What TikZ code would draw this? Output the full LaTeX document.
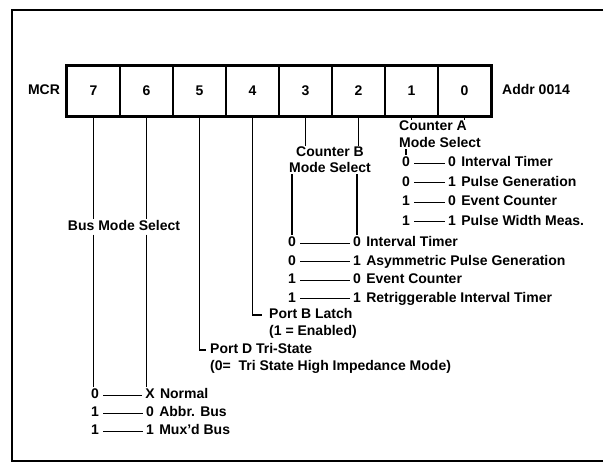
\documentclass[tikz,border=0pt]{standalone}
\usepackage{fontspec}
\setmainfont{Liberation Sans}
\usetikzlibrary{positioning}
\tikzset{
  lbl/.style={font=\bfseries\fontsize{14}{16}\selectfont, inner sep=1pt, text height=10pt, text depth=3pt},
  lbltwo/.style={font=\bfseries\fontsize{14}{16}\selectfont, inner sep=1pt},
  bitcell/.style={draw, line width=1.2pt, minimum width=53pt, minimum height=50pt, font=\bfseries\fontsize{14}{16}\selectfont},
  wire/.style={line width=1.2pt},
  dashline/.style={line width=1pt, shorten <=3pt, shorten >=2pt},
}
\begin{document}
\begin{tikzpicture}[x=1pt,y=-1pt]
    \useasboundingbox (0,0) rectangle (604,465);
    \draw[line width=1.2pt] (603,10) -- (12,10) -- (12,461) -- (603,461);
    % register
    \node[lbl] (mcr) at (44,91) {MCR};
    \foreach \b [count=\i from 0] in {7,6,5,4,3,2,1,0}
        \node[bitcell] (b\b) at (93.5+53*\i,91) {\b};
    \draw[line width=2.4pt] (b7.north west) rectangle (b0.south east);
    \node[lbl, anchor=west] (addr) at (501,91) {Addr 0014};
    % bits 1,0: counter A
    \node[lbltwo, align=left, anchor=north west] (cnta) at (398,120) {Counter A\\[1pt]Mode Select};
    \draw[wire] (b1.south) -- (b1.south |- cnta.north); \draw[wire] (b0.south) -- (b0.south |- cnta.north);
    \foreach \l/\r/\t [count=\k] in {0/0/Interval Timer, 0/1/Pulse Generation, 1/0/Event Counter, 1/1/Pulse Width Meas.} {
        \node[lbl] (al\k) at (406,143.5+19.5*\k) {\l};
        \node[lbl] (ar\k) at (452,143.5+19.5*\k) {\r};
        \node[lbl, anchor=west] (at\k) at ([xshift=3pt]ar\k.east) {\t};
        \draw[dashline] (al\k) -- (ar\k);
    }
    \draw[wire] (al1.north |- cnta.south) -- (al1.north);
    % bits 3,2: counter B
    \node[lbltwo, align=center] (cntb) at (330,160) {Counter B\\Mode Select};
    \draw[wire] (b3.south) -- (b3.south |- cntb.north); \draw[wire] (b2.south) -- (b2.south |- cntb.north);
    \foreach \l/\r/\t [count=\k] in {0/0/Interval Timer, 0/1/Asymmetric Pulse Generation, 1/0/Event Counter, 1/1/Retriggerable Interval Timer} {
        \node[lbl] (bl\k) at (292,224.5+18.5*\k) {\l};
        \node[lbl] (br\k) at (357,224.5+18.5*\k) {\r};
        \node[lbl, anchor=west] (bt\k) at ([xshift=3pt]br\k.east) {\t};
        \draw[dashline] (bl\k) -- (br\k);
    }
    \draw[wire] (bl1.north |- cntb.south) -- (bl1.north); \draw[wire] (br1.north |- cntb.south) -- (br1.north);
    % bit 4
    \node[lbl, anchor=west] (portb) at (268,315) {Port B Latch};
    \node[lbl, anchor=west] (portbnote) at (268,332) {(1 = Enabled)};
    \draw[wire, shorten >=6pt] (b4.south) |- (portb.west);
    % bit 5
    \node[lbl, anchor=west] (portd) at (209,350) {Port D Tri-State};
    \node[lbl, anchor=west] (portdnote) at (209,367) {(0=\ \ Tri State High Impedance Mode)};
    \draw[wire, shorten >=3pt] (b5.south) |- (portd.west);
    % bits 7,6: bus mode
    \node[lbl] (busms) at (124,227) {Bus Mode Select};
    \foreach \l/\r/\t [count=\k] in {0/X/Normal, 1/0/Abbr. Bus, 1/1/Mux'd Bus} {
        \node[lbl] (ml\k) at (95,377+18*\k) {\l};
        \node[lbl] (mr\k) at (150,377+18*\k) {\r};
        \node[lbl, anchor=west] (mt\k) at ([xshift=3pt]mr\k.east) {\t};
        \draw[dashline] (ml\k) -- (mr\k);
    }
    \draw[wire] (b7.south) -- (b7.south |- busms.north); \draw[wire] (b7.south |- busms.south) -- (b7.south |- ml1.north);
    \draw[wire] (b6.south) -- (b6.south |- busms.north); \draw[wire] (b6.south |- busms.south) -- (b6.south |- mr1.north);
\end{tikzpicture}
\end{document}
